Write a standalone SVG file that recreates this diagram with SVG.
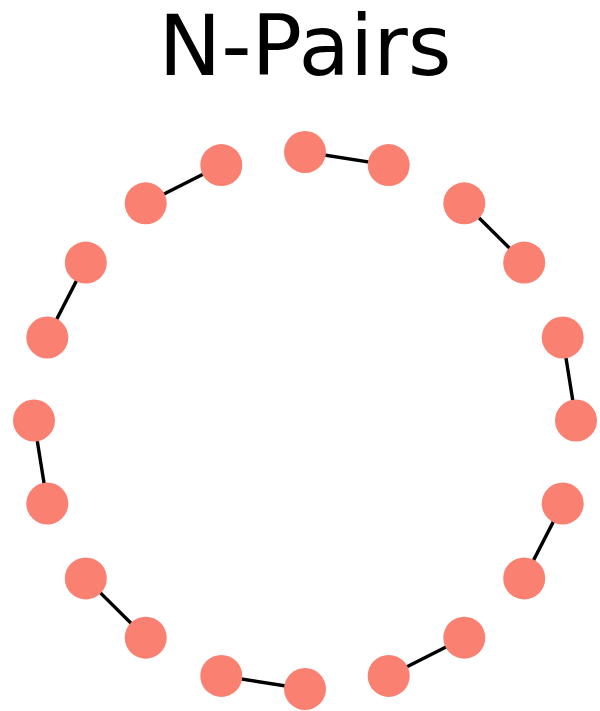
<svg xmlns="http://www.w3.org/2000/svg" width="600" height="711" viewBox="0 0 600 711">
<style>
.n{fill:#FA8072}
.e{stroke:#000;stroke-width:3.4;fill:none}
.t{font-family:"DejaVu Sans",sans-serif;font-size:84px;fill:#000}
</style>
<rect width="600" height="711" fill="#fff"/>
<text class="t" x="305" y="75" text-anchor="middle">N-Pairs</text>
<g id="edges">
<line class="e" x1="305" y1="152" x2="388.7" y2="165.1"/>
<line class="e" x1="464.3" y1="203.3" x2="524.2" y2="262.6"/>
<line class="e" x1="562.7" y1="337.5" x2="576" y2="420.5"/>
<line class="e" x1="562.7" y1="503.5" x2="524.2" y2="578.4"/>
<line class="e" x1="464.3" y1="637.7" x2="388.7" y2="675.9"/>
<line class="e" x1="305" y1="689" x2="221.3" y2="675.9"/>
<line class="e" x1="145.7" y1="637.7" x2="85.8" y2="578.4"/>
<line class="e" x1="47.3" y1="503.5" x2="34" y2="420.5"/>
<line class="e" x1="47.3" y1="337.5" x2="85.8" y2="262.6"/>
<line class="e" x1="145.7" y1="203.3" x2="221.3" y2="165.1"/>
</g>
<g id="n0"><circle class="n" cx="305" cy="152" r="21"/></g>
<g id="n1"><circle class="n" cx="388.7" cy="165.1" r="21"/></g>
<g id="n2"><circle class="n" cx="464.3" cy="203.3" r="21"/></g>
<g id="n3"><circle class="n" cx="524.2" cy="262.6" r="21"/></g>
<g id="n4"><circle class="n" cx="562.7" cy="337.5" r="21"/></g>
<g id="n5"><circle class="n" cx="576" cy="420.5" r="21"/></g>
<g id="n6"><circle class="n" cx="562.7" cy="503.5" r="21"/></g>
<g id="n7"><circle class="n" cx="524.2" cy="578.4" r="21"/></g>
<g id="n8"><circle class="n" cx="464.3" cy="637.7" r="21"/></g>
<g id="n9"><circle class="n" cx="388.7" cy="675.9" r="21"/></g>
<g id="n10"><circle class="n" cx="305" cy="689" r="21"/></g>
<g id="n11"><circle class="n" cx="221.3" cy="675.9" r="21"/></g>
<g id="n12"><circle class="n" cx="145.7" cy="637.7" r="21"/></g>
<g id="n13"><circle class="n" cx="85.8" cy="578.4" r="21"/></g>
<g id="n14"><circle class="n" cx="47.3" cy="503.5" r="21"/></g>
<g id="n15"><circle class="n" cx="34" cy="420.5" r="21"/></g>
<g id="n16"><circle class="n" cx="47.3" cy="337.5" r="21"/></g>
<g id="n17"><circle class="n" cx="85.8" cy="262.6" r="21"/></g>
<g id="n18"><circle class="n" cx="145.7" cy="203.3" r="21"/></g>
<g id="n19"><circle class="n" cx="221.3" cy="165.1" r="21"/></g>
</svg>
